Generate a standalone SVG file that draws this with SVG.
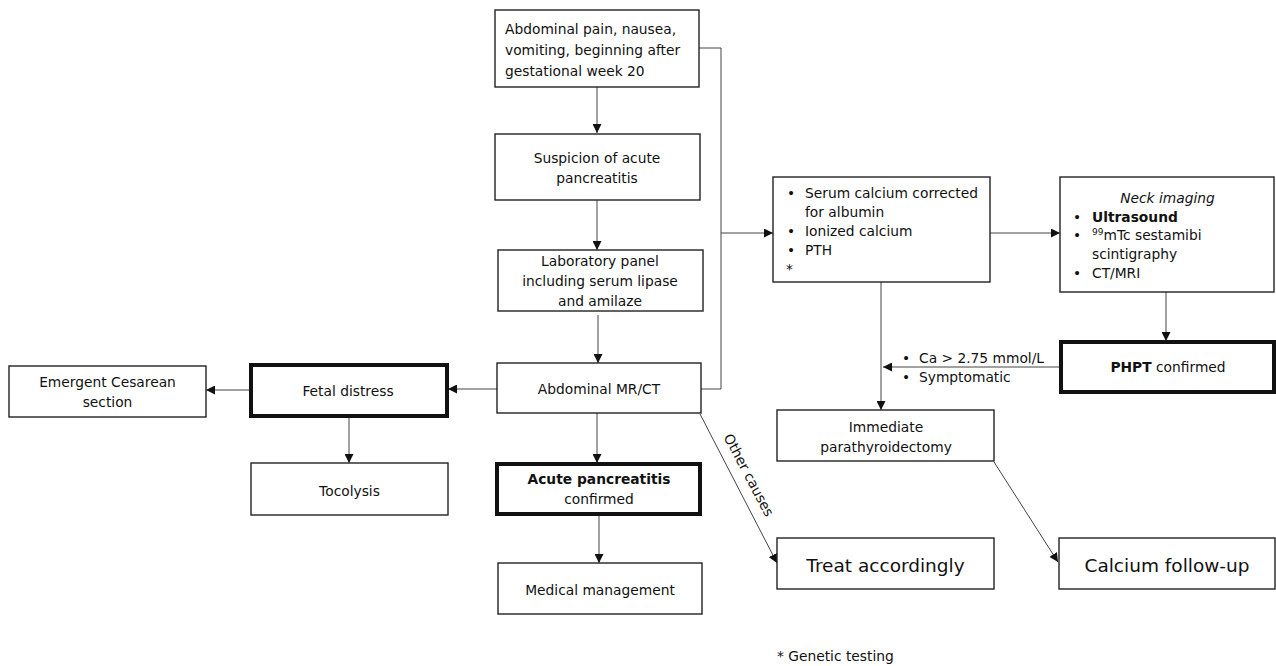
<svg xmlns="http://www.w3.org/2000/svg" width="1276" height="666" viewBox="0 0 1276 666">
<style>
.box{fill:#fff;stroke:#222;stroke-width:1.4}
.thick{fill:#fff;stroke:#111;stroke-width:4}
text{font-family:"DejaVu Sans","Verdana",sans-serif;font-size:13.8px;fill:#111}
.c{text-anchor:middle}
.big{font-size:18.5px}
.b{font-weight:bold}
.con line,.con polyline{stroke:#444;stroke-width:1;fill:none}
</style>
<defs>
<marker id="ah" markerUnits="userSpaceOnUse" markerWidth="9" markerHeight="9" refX="9" refY="4.5" orient="auto">
<path d="M0,0 L9,4.5 L0,9 z" fill="#111"/>
</marker>
</defs>
<rect width="1276" height="666" fill="#fff"/>
<g class="con">
<line x1="597" y1="87" x2="597" y2="133" marker-end="url(#ah)"/>
<line x1="597" y1="200" x2="597" y2="250" marker-end="url(#ah)"/>
<line x1="598" y1="315" x2="598" y2="363" marker-end="url(#ah)"/>
<line x1="597" y1="413" x2="597" y2="463" marker-end="url(#ah)"/>
<line x1="599" y1="515" x2="599" y2="563" marker-end="url(#ah)"/>
<line x1="497" y1="389" x2="448" y2="389" marker-end="url(#ah)"/>
<line x1="250" y1="390" x2="206" y2="390" marker-end="url(#ah)"/>
<line x1="349" y1="417" x2="349" y2="463" marker-end="url(#ah)"/>
<polyline points="699,48 721,48 721,389 701,389"/>
<line x1="721" y1="233" x2="773" y2="233" marker-end="url(#ah)"/>
<line x1="990" y1="233" x2="1060" y2="233" marker-end="url(#ah)"/>
<line x1="1166" y1="292" x2="1166" y2="341" marker-end="url(#ah)"/>
<line x1="1060" y1="367" x2="883" y2="367" marker-end="url(#ah)"/>
<line x1="881" y1="282" x2="881" y2="410" marker-end="url(#ah)"/>
<line x1="700" y1="414" x2="777" y2="563" marker-end="url(#ah)"/>
<line x1="994" y1="462" x2="1058" y2="562" marker-end="url(#ah)"/>
<text x="744.6" y="477.3" class="c" transform="rotate(62.2 744.6 477.3)">Other causes</text>
<text x="902" y="363">•</text><text x="919" y="363">Ca &gt; 2.75 mmol/L</text>
<text x="902" y="382">•</text><text x="919" y="382">Symptomatic</text>
</g>
<g id="n-symptoms">
<rect class="box" x="495" y="10" width="204" height="77"/>
<text x="505" y="34">Abdominal pain, nausea,</text>
<text x="505" y="55">vomiting, beginning after</text>
<text x="505" y="76">gestational week 20</text>
</g>
<g id="n-suspicion">
<rect class="box" x="495" y="134" width="205" height="66"/>
<text x="597" y="163" class="c">Suspicion of acute</text>
<text x="597" y="183" class="c">pancreatitis</text>
</g>
<g id="n-lab">
<rect class="box" x="498" y="250" width="205" height="61"/>
<text x="600" y="266" class="c">Laboratory panel</text>
<text x="600" y="286" class="c">including serum lipase</text>
<text x="600" y="306" class="c">and amilaze</text>
</g>
<g id="n-imaging">
<rect class="box" x="497" y="363" width="204" height="50"/>
<text x="599" y="394" class="c">Abdominal MR/CT</text>
</g>
<g id="n-ap">
<rect class="thick" x="497" y="464" width="203" height="50"/>
<text x="599" y="484" class="c b">Acute pancreatitis</text>
<text x="599" y="504" class="c">confirmed</text>
</g>
<g id="n-medical">
<rect class="box" x="498" y="563" width="204" height="51"/>
<text x="600" y="595" class="c">Medical management</text>
</g>
<g id="n-fetal">
<rect class="thick" x="251" y="365" width="196" height="51"/>
<text x="348" y="396" class="c">Fetal distress</text>
</g>
<g id="n-cesarean">
<rect class="box" x="9" y="366" width="197" height="51"/>
<text x="107.5" y="387" class="c">Emergent Cesarean</text>
<text x="107.5" y="407" class="c">section</text>
</g>
<g id="n-tocolysis">
<rect class="box" x="251" y="463" width="197" height="52"/>
<text x="349.5" y="496" class="c">Tocolysis</text>
</g>
<g id="n-treat">
<rect class="box" x="777" y="538" width="217" height="51"/>
<text x="885.5" y="572" class="c big">Treat accordingly</text>
</g>
<g id="n-serum">
<rect class="box" x="773" y="177" width="217" height="105"/>
<text x="787" y="198">•</text><text x="805" y="198">Serum calcium corrected</text>
<text x="805" y="217">for albumin</text>
<text x="787" y="236">•</text><text x="805" y="236">Ionized calcium</text>
<text x="787" y="255">•</text><text x="805" y="255">PTH</text>
<text x="786" y="274">*</text>
</g>
<g id="n-neck">
<rect class="box" x="1060" y="177" width="214" height="115"/>
<text x="1167.5" y="203" class="c" font-style="italic">Neck imaging</text>
<text x="1073" y="222">•</text><text x="1092" y="222" class="b">Ultrasound</text>
<text x="1073" y="240">•</text><text x="1092" y="240"><tspan font-size="9" dy="-5">99</tspan><tspan dy="5">mTc sestamibi</tspan></text>
<text x="1092" y="259">scintigraphy</text>
<text x="1073" y="278">•</text><text x="1092" y="278">CT/MRI</text>
</g>
<g id="n-phpt">
<rect class="thick" x="1061" y="342" width="213" height="50"/>
<text x="1168" y="372" class="c"><tspan class="b">PHPT</tspan> confirmed</text>
</g>
<g id="n-parathyroidectomy">
<rect class="box" x="777" y="410" width="217" height="51"/>
<text x="886" y="432" class="c">Immediate</text>
<text x="886" y="452" class="c">parathyroidectomy</text>
</g>
<g id="n-followup">
<rect class="box" x="1059" y="538" width="216" height="51"/>
<text x="1167" y="572" class="c big">Calcium follow-up</text>
</g>
<g id="footnote">
<text x="777" y="661">* Genetic testing</text>
</g>
</svg>
